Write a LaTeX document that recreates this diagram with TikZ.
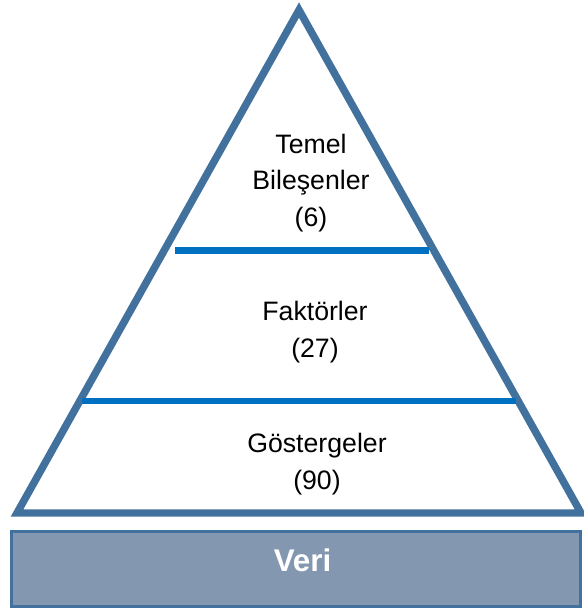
\documentclass[tikz,border=0pt]{standalone}
\usepackage{fontspec}
\setmainfont{Liberation Sans}
\usetikzlibrary{positioning}
\definecolor{pyrblue}{RGB}{65,113,156}
\definecolor{sepblue}{RGB}{0,112,192}
\definecolor{verifill}{RGB}{132,151,176}

\begin{document}
\begin{tikzpicture}[x=0.75pt,y=-0.75pt,
        every node/.style={font=\fontsize{20}{27.5}\selectfont},
        level/.style={align=center,text=black,inner sep=0pt},
        side/.style={line width=5.6pt,draw=pyrblue,line join=miter},
        divider/.style={line width=4.8pt,draw=sepblue},
        databox/.style={rectangle,fill=verifill,draw=pyrblue,line width=2.2pt,
                        minimum width=426.75pt,minimum height=56.25pt,inner sep=0pt},
        datatext/.style={font=\fontsize{23.5}{28}\selectfont\bfseries,text=white,inner sep=0pt}
      ]
      \useasboundingbox (0,0) rectangle (584,610);

      % pyramid
      \coordinate (apex) at (299,10);
      \coordinate (bl) at (17,513);
      \coordinate (br) at (581,513);
      \draw[side] (apex) -- (bl) -- (br) -- cycle;

      % dividers
      \draw[divider] (175,250.5) -- (429,250.5);
      \draw[divider] (82,401) -- (516,401);

      % levels
      \node[level] (temel) at (311,183) {Temel\\Bileşenler\\(6)};
      \node[level] (faktor) at (315,332) {Faktörler\\(27)};
      \node[level] (gosterge) at (317,464) {Göstergeler\\(90)};

      % data
      \node[databox] (veri) at (296,569) {};
      \node[datatext] (veritext) at (302.5,560.5) {Veri};
    \end{tikzpicture}
\end{document}
